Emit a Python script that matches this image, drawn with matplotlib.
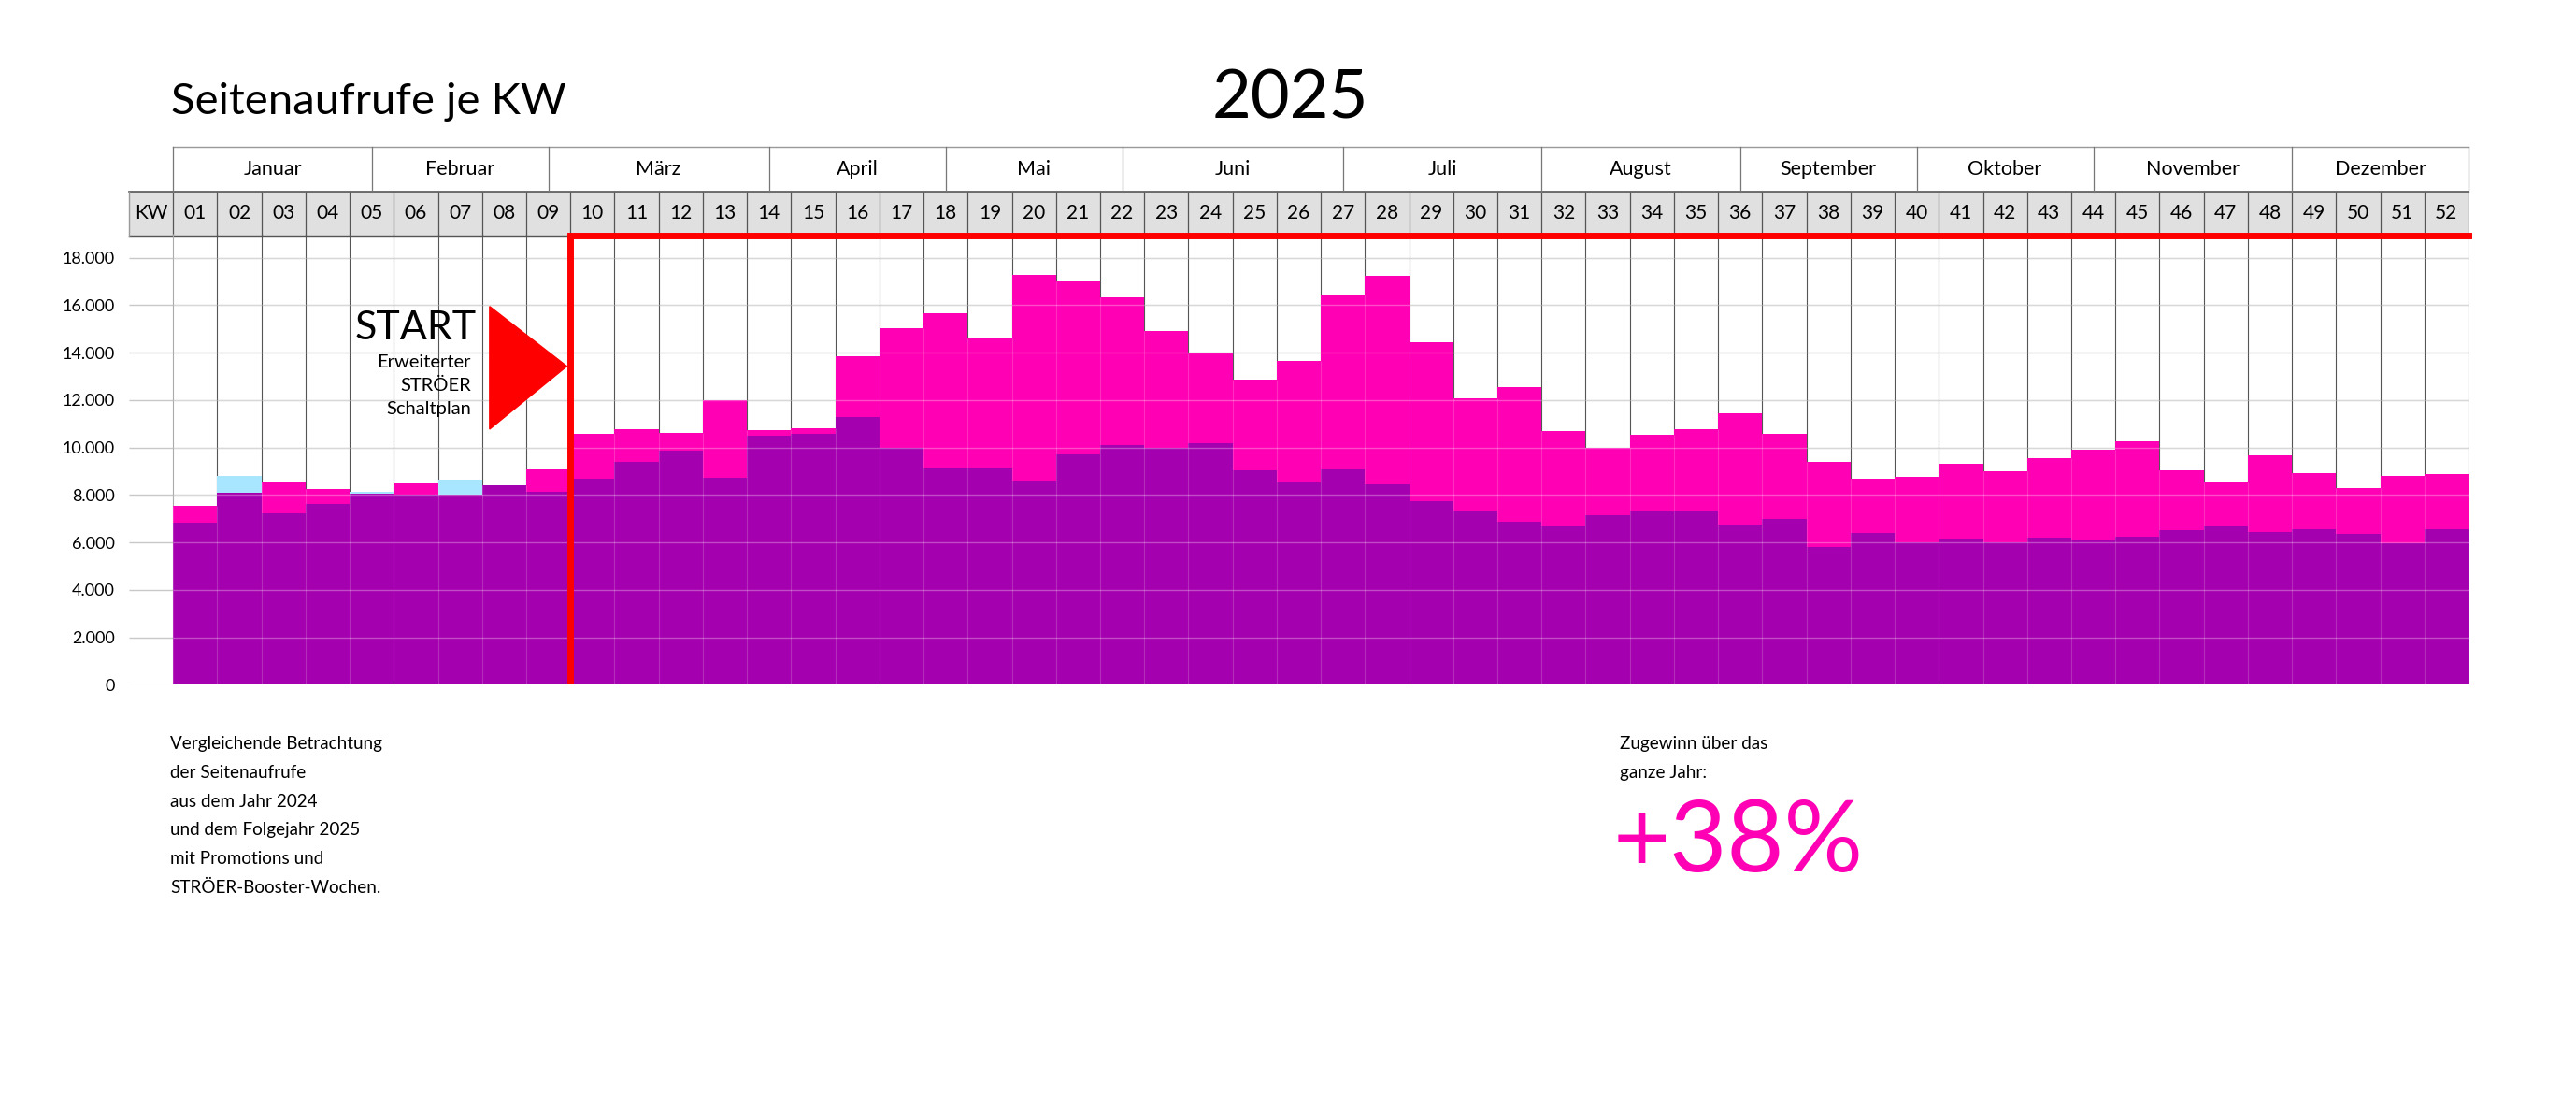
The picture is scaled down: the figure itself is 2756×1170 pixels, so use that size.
import numpy as np
import matplotlib
matplotlib.use("Agg")
import matplotlib.pyplot as plt
from matplotlib.patches import Polygon, Rectangle

plt.rcParams["font.family"] = ["Lato", "DejaVu Sans"]

# ---------------------------------------------------------------------------
# Data: page views per calendar week
# ---------------------------------------------------------------------------
weeks = np.arange(1, 53)
views_2024 = [6830, 8800, 7240, 7610, 8130, 8020, 8650, 8420, 8140, 8690,
              9390, 9880, 8730, 10510, 10590, 11300, 9980, 9100, 9100, 8600,
              9720, 10100, 10000, 10180, 9040, 8520, 9080, 8450, 7740, 7360,
              6860, 6690, 7150, 7290, 7360, 6750, 6990, 5810, 6400, 6000,
              6160, 6000, 6190, 6090, 6240, 6530, 6690, 6440, 6540, 6340,
              5980, 6570]
views_2025 = [7540, 8090, 8530, 8260, 8050, 8480, 8010, 8420, 9080, 10560,
              10760, 10600, 12000, 10720, 10800, 13860, 15030, 15660, 14580, 17260,
              17000, 16320, 14900, 13950, 12870, 13660, 16450, 17220, 14450, 12080,
              12530, 10710, 10000, 10520, 10760, 11440, 10590, 9400, 8670, 8750,
              9310, 8990, 9550, 9920, 10260, 9050, 8510, 9660, 8910, 8290,
              8790, 8870]

months = ["Januar", "Februar", "März", "April", "Mai", "Juni", "Juli",
          "August", "September", "Oktober", "November", "Dezember"]
month_edges = [0, 4.5, 8.5, 13.5, 17.5, 21.5, 26.5, 31, 35.5, 39.5, 43.5, 48, 52]

y_ticks = np.arange(0, 18001, 2000)
y_labels = [f"{v:,}".replace(",", ".") for v in y_ticks]

START_WEEK = 10
GAIN = "+38%"

# ---------------------------------------------------------------------------
# Styling
# ---------------------------------------------------------------------------
PURPLE = "#A500AF"
PINK = "#FF00B4"
BLUE = "#A8E6FF"
RED = "#FF0000"

W, H = 2756, 1170
fig = plt.figure(figsize=(W / 100, H / 100), dpi=100, facecolor="white")

def px(x, y):
    return x / W, 1 - y / H

# ── header: months + calendar weeks ─────────────────────────────────────────
hx = fig.add_axes([138 / W, (H - 252) / H, 2503 / W, 95 / H])
hx.set_xlim(-0.5, 52.5)
hx.set_ylim(0, 2)
hx.axis("off")
hx.set_zorder(1)

bounds = np.arange(0.5, 53.5, 1.0)
hx.add_patch(Rectangle((-0.5, 0), 53, 1, facecolor="#e0e0e0",
                       edgecolor="none", zorder=1))
hx.plot([-0.5, 52.5], [1, 1], color="#555555", lw=1.2, zorder=3, clip_on=False)
hx.plot([-0.5, 52.5], [0, 0], color="#555555", lw=1.0, zorder=3, clip_on=False)
hx.plot([0.5, 52.5], [2, 2], color="#999999", lw=1.0, zorder=3, clip_on=False)
hx.plot([-0.5, -0.5], [0, 1], color="#999999", lw=1.0, zorder=3, clip_on=False)
hx.vlines(bounds, 0, 1, color="#555555", lw=0.9, zorder=3)
for e in month_edges:
    hx.plot([0.5 + e, 0.5 + e], [1, 2], color="#777777", lw=0.9, zorder=3,
            clip_on=False)

hx.text(0, 0.5, "KW", fontsize=15, ha="center", va="center")
for w in weeks:
    hx.text(w, 0.5, f"{w:02d}", fontsize=15, ha="center", va="center")
for name, a, b in zip(months, month_edges[:-1], month_edges[1:]):
    hx.text(0.5 + (a + b) / 2, 1.5, name, fontsize=15.5, ha="center", va="center")

# ── main chart ──────────────────────────────────────────────────────────────
ax = fig.add_axes([138 / W, (H - 732.3) / H, 2503 / W, 482.1 / H])
ax.set_zorder(2)
ax.patch.set_alpha(0)
ax.set_xlim(-0.5, 52.5)
ax.set_ylim(0, 19000)

v24 = np.array(views_2024, dtype=float)
v25 = np.array(views_2025, dtype=float)
low = np.minimum(v24, v25)
top = np.maximum(v24, v25)

ax.bar(weeks, low, width=1.0, color=PURPLE, linewidth=0, zorder=2)
ax.bar(weeks, np.clip(v25 - v24, 0, None), bottom=v24, width=1.0,
       color=PINK, linewidth=0, zorder=2)
ax.bar(weeks, np.clip(v24 - v25, 0, None), bottom=v25, width=1.0,
       color=BLUE, linewidth=0, zorder=2)

# grid behind bars (visible in the white area)
ax.hlines(y_ticks, -0.5, 52.5, color="#c8c8c8", lw=1.0, zorder=1)
ax.vlines(bounds[1:], 0, 19000, color="#555555", lw=0.8, zorder=1)
ax.vlines(bounds[0], 0, 19000, color="#aaaaaa", lw=0.8, zorder=1)

# faint grid on top of the coloured bars
ax.hlines(y_ticks[1:], 0.5, 52.5, color="white", lw=1.0, alpha=0.3, zorder=3)
adj = np.minimum(np.r_[top[0], top], np.r_[top, top[-1]])
ax.vlines(bounds, 0, adj, color="white", lw=0.8, alpha=0.18, zorder=3)

# start markers
ax.plot([START_WEEK - 0.5, START_WEEK - 0.5], [0, 18930], color=RED, lw=5,
        solid_capstyle="butt", zorder=5)
ax.plot([START_WEEK - 0.5, 52.5], [18930, 18930], color=RED, lw=5,
        solid_capstyle="projecting", zorder=5, clip_on=False)
ax.add_patch(Polygon([(7.67, 15945), (7.67, 10771), (9.42, 13423)],
                     closed=True, color=RED, zorder=5))
ax.text(7.36, 14554, "START", fontsize=31, ha="right", va="baseline", zorder=6)
for yv, line in zip([13608, 12623, 11610], ["Erweiterter", "STRÖER", "Schaltplan"]):
    ax.text(7.25, yv, line, fontsize=14.5, ha="right", va="center", zorder=6)

ax.set_yticks(y_ticks)
ax.set_yticklabels(y_labels, fontsize=13)
ax.tick_params(axis="y", length=0, pad=11)
ax.set_xticks([])
for s in ax.spines.values():
    s.set_visible(False)

# ── titles and notes ────────────────────────────────────────────────────────
fig.text(*px(183, 121.7), "Seitenaufrufe je KW", fontsize=34, ha="left",
         va="baseline")
fig.text(*px(1380, 126.7), "2025", fontsize=52, ha="center", va="baseline")

notes = ["Vergleichende Betrachtung", "der Seitenaufrufe", "aus dem Jahr 2024",
         "und dem Folgejahr 2025", "mit Promotions und", "STRÖER-Booster-Wochen."]
for i, line in enumerate(notes):
    fig.text(*px(182, 796 + i * 30.6), line, fontsize=13.6, ha="left", va="center")

for i, line in enumerate(["Zugewinn über das", "ganze Jahr:"]):
    fig.text(*px(1733, 796 + i * 30.7), line, fontsize=13.6, ha="left", va="center")
fig.text(*px(1726, 931.7), GAIN, fontsize=76, color=PINK, ha="left",
         va="baseline")

fig.savefig("out.png", dpi=100, facecolor="white")
